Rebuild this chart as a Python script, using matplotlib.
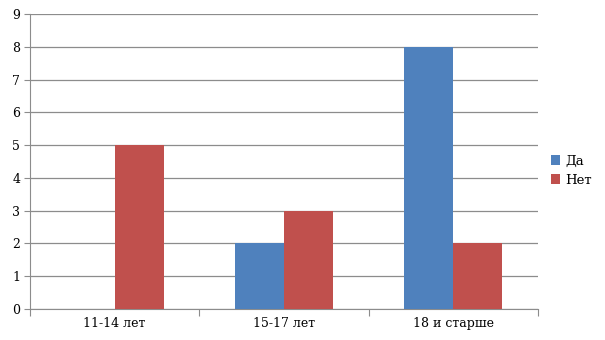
import matplotlib
matplotlib.use("Agg")
import matplotlib.pyplot as plt
import numpy as np

categories = ["11-14 лет", "15-17 лет", "18 и старше"]
da = [0, 2, 8]
net = [5, 3, 2]

BLUE = "#4F81BD"
RED = "#C0504D"
GRID = "#8c8c8c"

plt.rcParams["font.family"] = ["DejaVu Serif"]

fig = plt.figure(figsize=(6.05, 3.4), dpi=100)
ax = fig.add_axes([30 / 605, 31 / 340, 508 / 605, 295 / 340])

x = np.arange(len(categories))
w = 0.29
ax.bar(x - w / 2, da, w, color=BLUE, label="Да", zorder=3)
ax.bar(x + w / 2, net, w, color=RED, label="Нет", zorder=3)

ax.set_xlim(-0.5, 2.5)
ax.set_ylim(0, 9)
ax.set_yticks(range(10))
ax.yaxis.grid(True, color=GRID, lw=0.9, zorder=0)
ax.set_xticks([-0.5, 0.5, 1.5, 2.5], minor=False)
ax.set_xticklabels([])
ax.set_xticks(x, minor=True)
ax.set_xticklabels(categories, minor=True, fontsize=9)
ax.tick_params(axis="x", which="major", length=5, color=GRID)
ax.tick_params(axis="x", which="minor", length=0, pad=6)
ax.tick_params(axis="y", length=4, color=GRID, labelsize=9, pad=3)
for s in ("top", "right"):
    ax.spines[s].set_visible(False)
ax.spines["left"].set_color(GRID)
ax.spines["bottom"].set_color(GRID)

ax.legend(loc="center left", bbox_to_anchor=(1.002, 0.469), frameon=False,
          fontsize=9.5, handlelength=0.7, handleheight=0.7, handletextpad=0.4,
          labelspacing=0.45)

fig.savefig("out.png", dpi=100)
